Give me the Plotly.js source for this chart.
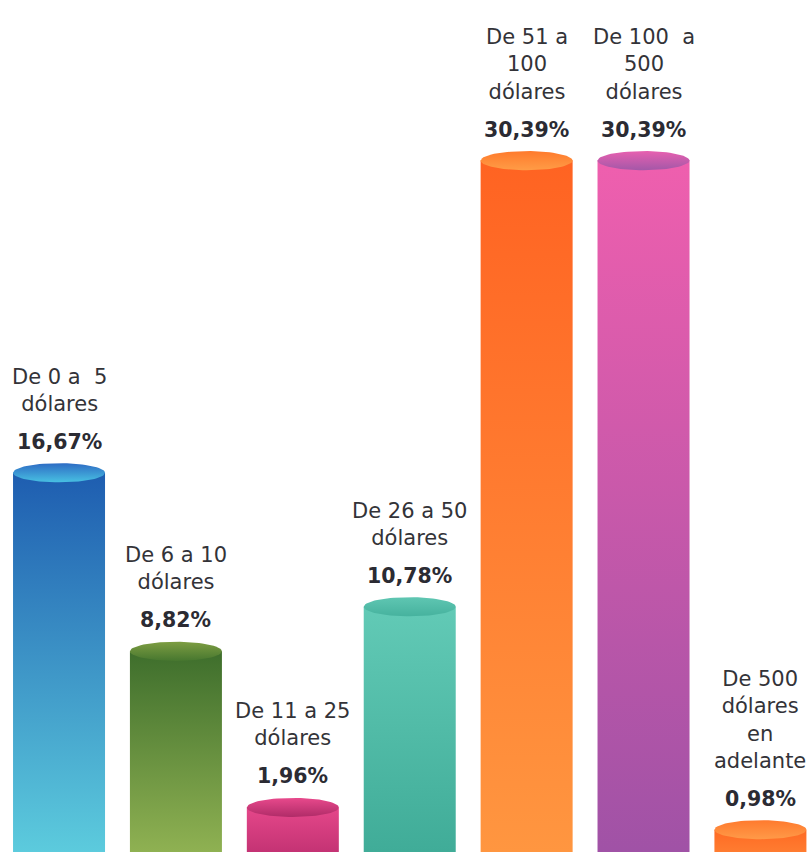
<!DOCTYPE html>
<html>
<head>
<meta charset="utf-8">
<script src="https://cdn.plot.ly/plotly-3.0.1.min.js"></script>
<style>html,body{margin:0;padding:0;background:#fff}#chart{width:808px;height:854px}</style>
</head>
<body>
<div id="chart"></div>
<script>
const categories = ['De 0 a  5<br>dólares', 'De 6 a 10<br>dólares', 'De 11 a 25<br>dólares', 'De 26 a 50<br>dólares', 'De 51 a<br>100<br>dólares', 'De 100  a<br>500<br>dólares', 'De 500<br>dólares<br>en<br>adelante'];
const values = [16.67, 8.82, 1.96, 10.78, 30.39, 30.39, 0.98];
const valueLabels = ['16,67%', '8,82%', '1,96%', '10,78%', '30,39%', '30,39%', '0,98%'];
const bodyTop = ['#1e5db0', '#3e6e2c', '#e5478a', '#62cab6', '#ff6322', '#ef5fae', '#ff6a24'];
const bodyBottom = ['#5ccbdd', '#8fb152', '#c43374', '#40ac98', '#ff9640', '#a052a6', '#ff7c30'];
const capTop = ['#2e6cc4', '#7d9d42', '#e8498c', '#5fc6b2', '#ff7a2c', '#e760b0', '#ff7a2e'];
const capBottom = ['#48c0e2', '#47772f', '#b02c68', '#46b29e', '#ff9c46', '#a458a8', '#ff9a48'];

const W = 0.787;      // bar width in category units
const CAP = 0.42;     // half-height of top ellipse in value units
const traces = [];
values.forEach((v, i) => {
  const xl = i - W / 2, xr = i + W / 2;
  traces.push({
    type: 'scatter', mode: 'lines', hoverinfo: 'skip', showlegend: false,
    x: [xl, xl, xr, xr, xl], y: [0, v, v, 0, 0],
    fill: 'toself', line: {width: 0, color: 'rgba(0,0,0,0)'},
    fillgradient: {type: 'vertical', colorscale: [[0, bodyBottom[i]], [1, bodyTop[i]]]}
  });
  const ex = [], ey = [];
  for (let k = 0; k <= 72; k++) {
    const t = 2 * Math.PI * k / 72;
    ex.push(i + (W / 2) * Math.cos(t));
    ey.push(v + CAP * Math.sin(t));
  }
  traces.push({
    type: 'scatter', mode: 'lines', hoverinfo: 'skip', showlegend: false,
    x: ex, y: ey, fill: 'toself', line: {width: 0, color: 'rgba(0,0,0,0)'},
    fillgradient: {type: 'vertical', colorscale: [[0, capBottom[i]], [1, capTop[i]]]}
  });
});

const annotations = [];
values.forEach((v, i) => {
  annotations.push({
    x: i, y: v, xref: 'x', yref: 'y', text: valueLabels[i], showarrow: false,
    yanchor: 'middle', yshift: 31,
    font: {family: 'DejaVu Sans, sans-serif', size: 20.5, color: '#2b2b33', weight: 'bold'}
  });
  annotations.push({
    x: i, y: v, xref: 'x', yref: 'y', text: categories[i], showarrow: false,
    yanchor: 'bottom', yshift: 55,
    font: {family: 'DejaVu Sans, sans-serif', size: 21, color: '#333338'}
  });
});

const layout = {
  width: 808, height: 854,
  margin: {l: 0, r: 0, t: 0, b: 2},
  paper_bgcolor: '#ffffff', plot_bgcolor: '#ffffff',
  xaxis: {range: [-0.505, 6.407], visible: false, fixedrange: true},
  yaxis: {range: [0, 37.45], visible: false, fixedrange: true},
  annotations: annotations,
  showlegend: false
};
Plotly.newPlot('chart', traces, layout, {displayModeBar: false, staticPlot: true});
</script>
</body>
</html>
